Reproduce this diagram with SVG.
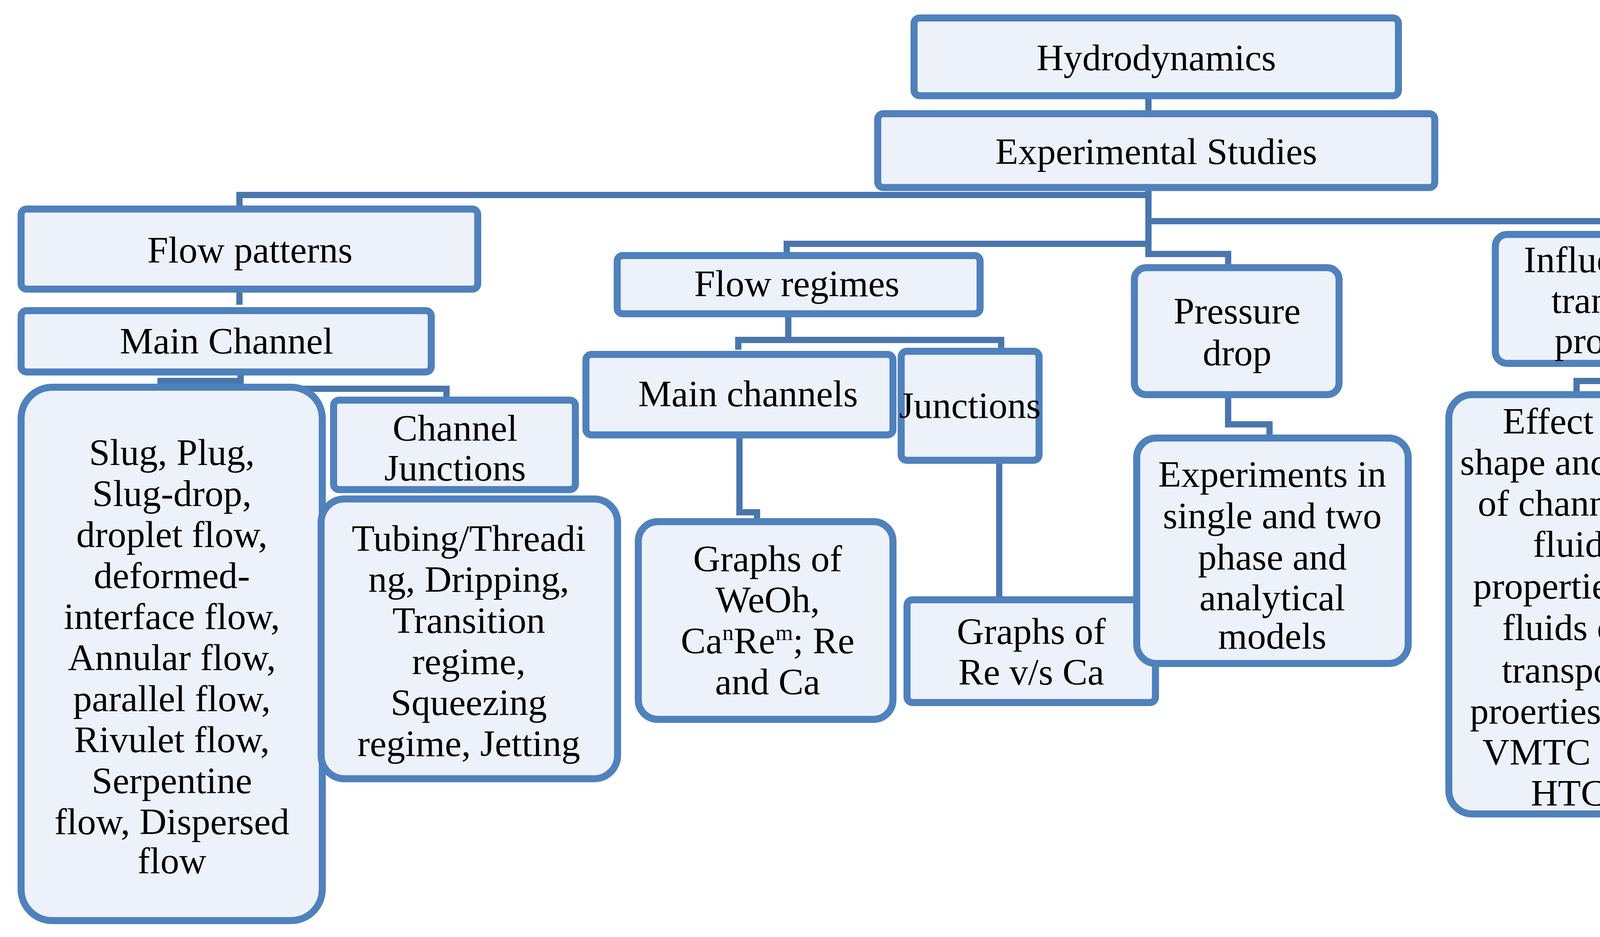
<svg xmlns="http://www.w3.org/2000/svg" width="5485" height="2398" viewBox="0 0 5485 2398">
<style>
.b{fill:#edf1f9;stroke:#4f81bd;stroke-width:18}
.c{fill:none;stroke:#4a76ad;stroke-width:16}
text{font-family:"Liberation Serif","Times New Roman",serif;font-size:96px;fill:#000;text-anchor:middle}
</style>
<rect width="5485" height="2398" fill="#fff"/>
<g id="connectors" class="c">
<path d="M2940 245V291"/>
<path d="M613 535V499H2940"/>
<path d="M2940 480V650H3144V685"/>
<path d="M2940 566H4973V597"/>
<path d="M4115 566V600"/>
<path d="M2014 654V624H2940"/>
<path d="M613 740V780"/>
<path d="M616 952V975H411V991"/>
<path d="M768 995H1143V1024"/>
<path d="M2018 803V870"/>
<path d="M1890 895V870H2563V899"/>
<path d="M1893 1113V1311H1938V1335"/>
<path d="M2558 1178V1535"/>
<path d="M3144 1010V1086H3250V1121"/>
<path d="M4115 930V975H4036V1010"/>
<path d="M4973 779V933H4947V960"/>
</g>
<g id="hydrodynamics"><rect class="b" x="2340" y="46" width="1240" height="199" rx="14"/><text x="2960" y="180">Hydrodynamics</text></g>
<g id="experimental"><rect class="b" x="2247" y="291" width="1426" height="189" rx="14"/><text x="2960" y="420">Experimental Studies</text></g>
<g id="flowpatterns"><rect class="b" x="54" y="535" width="1169" height="205" rx="14"/><text x="640" y="672">Flow patterns</text></g>
<g id="mainchannel"><rect class="b" x="54" y="795" width="1050" height="157" rx="14"/><text x="580" y="905">Main Channel</text></g>
<g id="slug"><rect class="b" x="54" y="991" width="771" height="1365" rx="80"/>
<text x="440"><tspan x="440" y="1190">Slug, Plug,</tspan><tspan x="440" y="1295">Slug-drop,</tspan><tspan x="440" y="1400">droplet flow,</tspan><tspan x="440" y="1505">deformed-</tspan><tspan x="440" y="1610">interface flow,</tspan><tspan x="440" y="1715">Annular flow,</tspan><tspan x="440" y="1820">parallel flow,</tspan><tspan x="440" y="1925">Rivulet flow,</tspan><tspan x="440" y="2030">Serpentine</tspan><tspan x="440" y="2135">flow, Dispersed</tspan><tspan x="440" y="2235">flow</tspan></text></g>
<g id="channeljunctions"><rect class="b" x="854" y="1024" width="619" height="229" rx="14"/><text x="1165"><tspan x="1165" y="1128">Channel</tspan><tspan x="1165" y="1230">Junctions</tspan></text></g>
<g id="tubing"><rect class="b" x="822" y="1277" width="759" height="716" rx="60"/>
<text x="1200"><tspan x="1200" y="1410">Tubing/Threadi</tspan><tspan x="1200" y="1515">ng, Dripping,</tspan><tspan x="1200" y="1620">Transition</tspan><tspan x="1200" y="1725">regime,</tspan><tspan x="1200" y="1830">Squeezing</tspan><tspan x="1200" y="1935">regime, Jetting</tspan></text></g>
<g id="flowregimes"><rect class="b" x="1580" y="654" width="929" height="149" rx="14"/><text x="2040" y="758">Flow regimes</text></g>
<g id="mainchannels"><rect class="b" x="1500" y="907" width="786" height="206" rx="14"/><text x="1915" y="1040">Main channels</text></g>
<g id="junctions"><rect class="b" x="2307" y="899" width="353" height="279" rx="14"/><text x="2483" y="1070" font-size="84">Junctions</text></g>
<g id="weoh"><rect class="b" x="1634" y="1335" width="652" height="506" rx="50"/>
<text x="1965"><tspan x="1965" y="1462">Graphs of</tspan><tspan x="1965" y="1567">WeOh,</tspan><tspan x="1965" y="1672">Ca<tspan font-size="58" dy="-34">n</tspan><tspan dy="34">Re</tspan><tspan font-size="58" dy="-34">m</tspan><tspan dy="34">; Re</tspan></tspan><tspan x="1965" y="1777">and Ca</tspan></text></g>
<g id="reca"><rect class="b" x="2322" y="1535" width="636" height="263" rx="14"/><text x="2640"><tspan x="2640" y="1648">Graphs of</tspan><tspan x="2640" y="1752">Re v/s Ca</tspan></text></g>
<g id="pressuredrop"><rect class="b" x="2904" y="685" width="524" height="325" rx="30"/><text x="3167"><tspan x="3167" y="828">Pressure</tspan><tspan x="3167" y="935">drop</tspan></text></g>
<g id="experiments"><rect class="b" x="2910" y="1121" width="695" height="577" rx="50"/>
<text x="3257"><tspan x="3257" y="1246">Experiments in</tspan><tspan x="3257" y="1352">single and two</tspan><tspan x="3257" y="1458">phase and</tspan><tspan x="3257" y="1562">analytical</tspan><tspan x="3257" y="1660">models</tspan></text></g>
<g id="influence"><rect class="b" x="3828" y="600" width="630" height="330" rx="30"/><text x="4142"><tspan x="4142" y="697">Influence on</tspan><tspan x="4142" y="801">transport</tspan><tspan x="4142" y="904">property</tspan></text></g>
<g id="effectshape"><rect class="b" x="3709" y="1010" width="621" height="1073" rx="60"/>
<text x="4015"><tspan x="4015" y="1110">Effect of</tspan><tspan x="4015" y="1215">shape and size</tspan><tspan x="4015" y="1320">of channels,</tspan><tspan x="4015" y="1425">fluid</tspan><tspan x="4015" y="1532">properties of</tspan><tspan x="4015" y="1638">fluids on</tspan><tspan x="4015" y="1747">transport</tspan><tspan x="4015" y="1852">proerties like</tspan><tspan x="4015" y="1957">VMTC and</tspan><tspan x="4015" y="2062">HTC</tspan></text></g>
<g id="parametric"><rect class="b" x="4680" y="597" width="634" height="182" rx="14"/><text x="4999"><tspan x="4999" y="682">Parametric</tspan><tspan x="4999" y="778">sensitivity</tspan></text></g>
<g id="effectof"><rect class="b" x="4515" y="960" width="963" height="1420" rx="100"/>
<text x="4998" font-size="90"><tspan x="4998" y="1257">Effect of:</tspan><tspan x="4998" y="1372">Shape and size,</tspan><tspan x="4998" y="1481">Viscosity ratio,</tspan><tspan x="4998" y="1593">Material properties,</tspan><tspan x="4998" y="1705">Channel geometry,</tspan><tspan x="4998" y="1817">internal circulations,</tspan><tspan x="4998" y="1925">flow ratio, fluid</tspan><tspan x="4998" y="2034">properties,</tspan><tspan x="4998" y="2146">surfactants, vacuum</tspan><tspan x="4998" y="2251">on outlet of channels</tspan></text></g>
</svg>
